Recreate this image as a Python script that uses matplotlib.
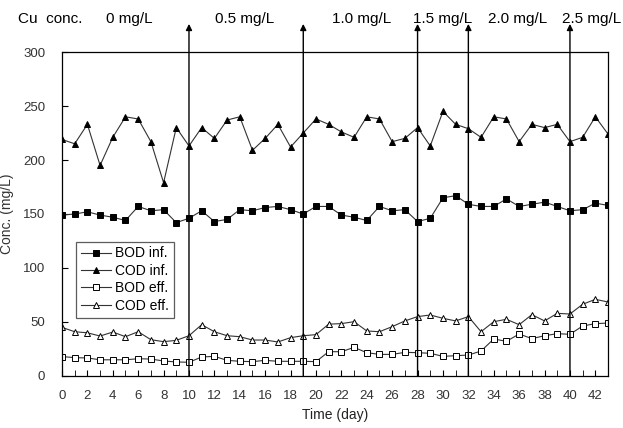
import matplotlib.pyplot as plt

plt.rcParams['font.family'] = ['Liberation Sans', 'DejaVu Sans']

days = list(range(44))

bod_inf = [149, 150, 152, 149, 147, 144, 157, 153, 154, 142, 146, 153, 143, 145, 154,
           153, 156, 157, 154, 150, 157, 157, 149, 147, 144, 157, 153, 154, 143, 146,
           165, 167, 159, 157, 157, 164, 157, 159, 161, 157, 153, 154, 160, 158]
cod_inf = [219, 215, 233, 195, 221, 240, 238, 217, 179, 230, 213, 230, 220, 237, 240,
           209, 220, 233, 212, 225, 238, 233, 226, 221, 240, 238, 217, 220, 230, 213,
           245, 233, 229, 221, 240, 238, 217, 233, 230, 233, 217, 221, 240, 224]
bod_eff = [18, 17, 16.7, 15, 15, 15, 16, 15.7, 13.9, 13, 12.7, 17.6, 18.2, 14.5, 13.6,
           13.3, 14.5, 13.6, 13.6, 13.6, 13.3, 22.5, 22.5, 26.5, 21.6, 20, 20, 21.9, 21.6, 21,
           18.2, 18.8, 19.4, 23.1, 34.3, 32.1, 38.9, 34.6, 37.3, 39.2, 38.6, 46.3, 48.5, 49]
cod_eff = [45, 41, 40, 37, 40.7, 36.4, 41, 33.6, 31.8, 33, 37.3, 47.5, 41, 37.3, 36.4,
           33.3, 33.3, 31.5, 35.5, 37.3, 38.3, 48, 48.5, 50.3, 41.7, 41, 45.7, 51, 55, 56.5,
           53.4, 51, 55, 41, 50.3, 52.5, 47.5, 56.8, 51, 58, 57.4, 66.4, 71, 68.5]

# days where the Cu dose was stepped up, and the dose labels
step_days = [10, 19, 28, 32, 40]
dose_labels = ["0 mg/L", "0.5 mg/L", "1.0 mg/L", "1.5 mg/L", "2.0 mg/L", "2.5 mg/L"]
dose_label_x = [5.3, 14.4, 23.6, 30.0, 35.9, 41.7]

fig = plt.figure(figsize=(6.23, 4.28), dpi=100)
ax = fig.add_axes([0.0995, 0.1215, 0.8765, 0.757])

line_kw = dict(color="#333333", lw=0.8, markersize=4.5, markeredgewidth=0.7,
               markeredgecolor="black")
ax.plot(days, bod_inf, marker="s", markerfacecolor="black", label="BOD inf.", **line_kw)
ax.plot(days, cod_inf, marker="^", markerfacecolor="black", label="COD inf.", **line_kw)
ax.plot(days, bod_eff, marker="s", markerfacecolor="white", label="BOD eff.", **line_kw)
ax.plot(days, cod_eff, marker="^", markerfacecolor="white", label="COD eff.", **line_kw)

for d in step_days:
    ax.annotate("", xy=(d, 326), xytext=(d, 0), xycoords="data",
                annotation_clip=False,
                arrowprops=dict(arrowstyle="-|>", color="black", lw=1.0,
                                mutation_scale=9, shrinkA=0, shrinkB=0))

ax.text(-0.95, 331, "Cu  conc.", fontsize=11, ha="center", va="center")
for xl, lab in zip(dose_label_x, dose_labels):
    ax.text(xl, 331, lab, fontsize=11, ha="center", va="center")

ax.set_xlim(0, 43)
ax.set_ylim(0, 300)
ax.set_xticks(range(0, 43, 2))
ax.set_xticks(range(0, 44), minor=True)
ax.set_yticks(range(0, 301, 50))
ax.tick_params(axis="both", which="both", direction="in", labelsize=9.5,
               labelcolor="#333333")
ax.tick_params(axis="both", which="major", length=4)
ax.tick_params(axis="x", which="major", pad=10)
ax.tick_params(axis="y", which="major", pad=12)
ax.tick_params(axis="x", which="minor", length=4)
for s in ax.spines.values():
    s.set_linewidth(0.9)

ax.set_xlabel("Time (day)", fontsize=10, color="#222222")
ax.set_ylabel("Conc. (mg/L)", fontsize=10, color="#333333")
ax.xaxis.set_label_coords(0.5, -0.1)
ax.yaxis.set_label_coords(-0.088, 0.5)

leg = ax.legend(loc="lower left", bbox_to_anchor=(0.025, 0.18), fontsize=10,
                frameon=True, fancybox=False, edgecolor="#333333",
                handlelength=2.2, handletextpad=0.3, borderpad=0.35,
                labelspacing=0.25, borderaxespad=0)
leg.get_frame().set_linewidth(0.9)

fig.savefig("out.png", dpi=100)
